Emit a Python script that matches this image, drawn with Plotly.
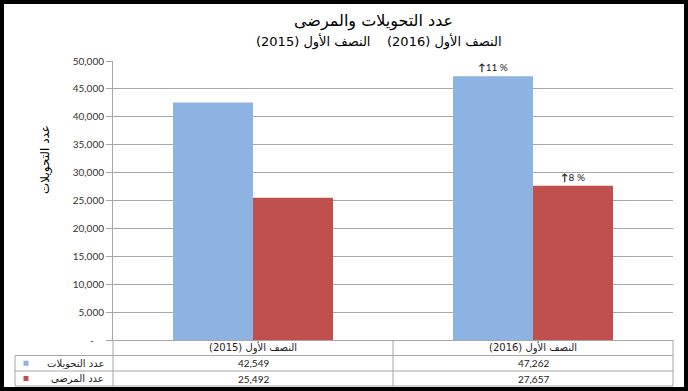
import plotly.graph_objects as go

# ---- data ----
categories = ["النصف الأول (2015)", "النصف الأول (2016)"]
series_names = ["عدد التحويلات", "عدد المرضى"]
transfers = [42549, 47262]
patients = [25492, 27657]
tick_values = [0, 5000, 10000, 15000, 20000, 25000, 30000, 35000, 40000, 45000, 50000]
tick_labels = ["-\u00a0\u00a0\u00a0\u00a0", "5,000", "10,000", "15,000", "20,000", "25,000",
               "30,000", "35,000", "40,000", "45,000", "50,000"]
title_text = "عدد التحويلات والمرضى"
subtitle_text = "النصف الأول (2016)\u00a0\u00a0\u00a0 النصف الأول (2015)"
y_title = "عدد التحويلات"

colors = ["#8DB3E2", "#C0504D"]

# ---- layout helpers (pixel -> paper) ----
W_FIG, H_FIG = 688, 391
L, T, PW, PH = 113, 61, 560, 279
def px(x):
    return (x - L) / PW
def py(y):
    return (T + PH - y) / PH

AR_FONT = "DejaVu Sans"
NUM_FONT = "Lato"

def pct_text(vals):
    out = [""]
    for i in range(1, len(vals)):
        p = round((vals[i] / vals[i - 1] - 1) * 100)
        out.append("<b>↑</b>%d %%" % p)
    return out

fig = go.Figure()
for name, vals, col in zip(series_names, [transfers, patients], colors):
    fig.add_trace(go.Bar(
        x=categories, y=vals, name=name, marker=dict(color=col, line=dict(width=0)),
        text=pct_text(vals), textposition="outside", cliponaxis=False,
        textfont=dict(family=NUM_FONT, size=10, color="#222222"),
        hoverinfo="skip",
    ))

shapes = []
annotations = []
grid_col = "#A6A6A6"

def note(x, y, text, font, xref="paper", xanchor="center", **kw):
    d = dict(x=x, y=y, xref=xref, yref="paper", text=text, showarrow=False,
             xanchor=xanchor, yanchor="middle", font=font)
    d.update(kw)
    annotations.append(d)

# table rows (pixel y)
r0, r1, r2, r3 = 340, 355.5, 371, 386
x_left = 15
for yy in [r1, r2, r3]:
    shapes.append(dict(type="line", xref="paper", yref="paper", x0=px(x_left), x1=1,
                       y0=py(yy), y1=py(yy), line=dict(color=grid_col, width=1)))
shapes.append(dict(type="line", xref="paper", yref="paper", x0=px(x_left), x1=px(x_left),
                   y0=py(r1), y1=py(r3), line=dict(color=grid_col, width=1)))
shapes.append(dict(type="line", xref="paper", yref="paper", x0=0, x1=0,
                   y0=py(r0), y1=py(r3), line=dict(color=grid_col, width=1)))
shapes.append(dict(type="line", xref="paper", yref="paper", x0=1, x1=1,
                   y0=py(r0), y1=py(r3), line=dict(color=grid_col, width=1)))
shapes.append(dict(type="line", xref="x", yref="paper", x0=0.5, x1=0.5,
                   y0=py(r0), y1=py(r3), line=dict(color=grid_col, width=1)))

cell_font_ar = dict(family=AR_FONT, size=10, color="#222222")
cell_font_num = dict(family=NUM_FONT, size=10, color="#222222")

for c in categories:
    note(c, py((r0 + r1) / 2), c, cell_font_ar, xref="x")
row_centers = [(r1 + r2) / 2, (r2 + r3) / 2]
for vals, yc, name, col in zip([transfers, patients], row_centers, series_names, colors):
    for c, v in zip(categories, vals):
        note(c, py(yc), f"{v:,}", cell_font_num, xref="x")
    note(px(106), py(yc), name, cell_font_ar, xanchor="right")
    shapes.append(dict(type="rect", xref="paper", yref="paper", x0=px(23.5), x1=px(28.5),
                       y0=py(yc + 2.5), y1=py(yc - 2.5), fillcolor=col, line=dict(width=0)))

# titles
note(px(373), py(21), title_text, dict(family=AR_FONT, size=16, color="#000000"))
note(px(379), py(41), subtitle_text, dict(family=AR_FONT, size=13, color="#000000"))
note(px(45), py(160), y_title, dict(family=AR_FONT, size=12, color="#000000"), textangle=-90)

# outer frame
shapes.append(dict(type="rect", xref="paper", yref="paper", x0=px(2), x1=px(686),
                   y0=py(389), y1=py(2), line=dict(color="#000000", width=4)))

fig.update_layout(
    width=W_FIG, height=H_FIG,
    margin=dict(l=L, r=W_FIG - L - PW, t=T, b=H_FIG - T - PH, pad=0),
    paper_bgcolor="white", plot_bgcolor="white",
    barmode="group", bargap=120 / 280, bargroupgap=0,
    showlegend=False,
    shapes=shapes, annotations=annotations,
    xaxis=dict(showticklabels=False, ticks="", showgrid=False, showline=True,
               linecolor=grid_col, linewidth=1, fixedrange=True),
    yaxis=dict(range=[0, 50000], tickvals=tick_values, ticktext=tick_labels,
               ticks="outside", ticklen=6, tickcolor=grid_col, showgrid=True,
               gridcolor=grid_col, gridwidth=1, showline=True, linecolor=grid_col,
               linewidth=1, zeroline=False,
               tickfont=dict(family=NUM_FONT, size=10, color="#333333"), fixedrange=True),
)

fig.write_html("out.html")
